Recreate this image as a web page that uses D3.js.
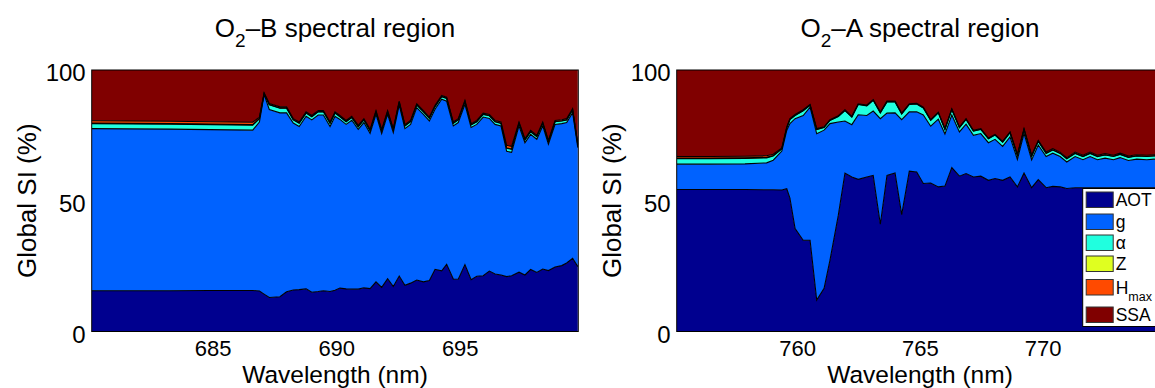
<!DOCTYPE html>
<html>
<head>
<meta charset="utf-8">
<script src="https://cdn.jsdelivr.net/npm/d3@7"></script>
<style>
  body { margin: 0; background: #fff; }
  text { font-family: "Liberation Sans", Arial, sans-serif; }
</style>
</head>
<body>
<svg id="chart" width="1155" height="388"></svg>
<script>
const keys = ["AOT", "g", "alpha", "Z", "Hmax", "SSA"];
const colors = ["#00008f", "#0062ff", "#20ffdf", "#dfff20", "#ff4a00", "#800000"];

// O2-B spectral region
const bWavelength = [680.10, 681.65, 683.27, 684.89, 686.62, 686.89, 687.08, 687.29, 687.72, 687.99,
  688.26, 688.50, 688.78, 689.01, 689.27, 689.48, 689.75, 689.95, 690.15, 690.40,
  690.63, 690.89, 691.12, 691.37, 691.61, 691.84, 692.08, 692.31, 692.55, 692.78,
  693.01, 693.26, 693.53, 693.77, 694.00, 694.27, 694.47, 694.74, 694.94, 695.21,
  695.46, 695.69, 695.95, 696.20, 696.43, 696.67, 696.90, 697.10, 697.40, 697.64,
  697.87, 698.12, 698.36, 698.59, 698.86, 699.13, 699.33, 699.57, 699.78];
const bAOT = [15.6, 15.6, 15.6, 15.7, 15.7, 15.5, 14.3, 13.0, 13.3, 15.2,
  15.9, 16.0, 16.3, 15.0, 15.3, 15.6, 15.3, 15.8, 16.6, 16.3,
  16.2, 16.2, 16.7, 16.4, 19.0, 16.9, 20.2, 17.2, 21.2, 17.7,
  18.5, 19.7, 19.0, 19.5, 23.8, 23.2, 25.7, 20.1, 20.0, 25.6,
  19.8, 21.1, 21.3, 23.1, 22.0, 21.6, 21.0, 21.3, 22.7, 21.6,
  23.7, 22.6, 23.9, 23.3, 24.7, 25.2, 26.2, 28.0, 24.8];
const bG = [62.0, 61.9, 61.8, 61.5, 61.3, 64.6, 76.3, 71.9, 70.3, 68.4,
  63.8, 62.4, 66.0, 65.9, 67.5, 67.2, 63.1, 66.5, 64.5, 62.9,
  64.6, 61.1, 63.2, 59.4, 64.0, 58.8, 62.8, 58.9, 65.4, 59.9,
  60.7, 65.9, 64.0, 61.0, 61.2, 65.6, 62.4, 58.5, 59.9, 61.3,
  58.2, 58.1, 60.7, 58.4, 57.2, 57.0, 47.9, 47.2, 55.9, 50.6,
  51.7, 50.9, 54.7, 48.3, 54.5, 54.3, 53.7, 55.7, 45.5];
const bAlpha = [1.9, 1.9, 1.9, 1.9, 1.9, 1.3, 0.3, 1.8, 1.8, 1.8,
  1.2, 1.2, 1.2, 1.2, 1.2, 1.2, 1.2, 1.2, 1.0, 1.0,
  1.0, 1.0, 1.0, 1.0, 1.0, 1.0, 1.0, 1.0, 1.0, 1.0,
  1.0, 1.0, 1.0, 1.0, 1.0, 1.0, 1.0, 1.0, 1.0, 1.0,
  1.0, 1.0, 1.0, 1.0, 1.0, 1.0, 1.2, 1.2, 1.0, 1.0,
  1.0, 1.0, 1.0, 1.0, 1.0, 1.0, 1.0, 1.0, 1.0];
const bZ = [0.2, 0.2, 0.2, 0.2, 0.2, 0.1, 0.1, 0.1, 0.1, 0.1,
  0.1, 0.1, 0.1, 0.1, 0.1, 0.1, 0.1, 0.1, 0.1, 0.1,
  0.1, 0.1, 0.1, 0.1, 0.1, 0.1, 0.1, 0.1, 0.1, 0.1,
  0.1, 0.1, 0.1, 0.1, 0.1, 0.1, 0.1, 0.1, 0.1, 0.1,
  0.1, 0.1, 0.1, 0.1, 0.1, 0.1, 0.1, 0.1, 0.1, 0.1,
  0.1, 0.1, 0.1, 0.1, 0.1, 0.1, 0.1, 0.1, 0.1];
const bHmax = [0.9, 0.9, 0.9, 0.9, 0.9, 0.5, 0.3, 0.4, 0.4, 0.4,
  0.4, 0.4, 0.4, 0.4, 0.4, 0.4, 0.4, 0.4, 0.4, 0.4,
  0.4, 0.4, 0.4, 0.4, 0.4, 0.4, 0.4, 0.4, 0.4, 0.4,
  0.4, 0.4, 0.4, 0.4, 0.4, 0.4, 0.4, 0.4, 0.4, 0.4,
  0.4, 0.4, 0.4, 0.4, 0.4, 0.4, 1.0, 1.0, 0.4, 0.4,
  0.4, 0.4, 0.4, 0.4, 0.4, 0.4, 0.4, 0.4, 0.4];
const bSSA = [19.4, 19.5, 19.6, 19.8, 20.0, 18.0, 8.7, 12.8, 14.1, 14.1,
  18.6, 19.9, 16.0, 17.4, 15.5, 15.5, 19.9, 16.0, 17.4, 19.3,
  17.7, 21.2, 18.6, 22.7, 15.5, 22.8, 15.5, 22.4, 11.9, 20.9,
  19.3, 12.9, 15.5, 18.0, 13.5, 9.7, 10.4, 19.9, 18.6, 11.6,
  20.5, 19.3, 16.5, 17.0, 19.3, 19.9, 28.8, 29.2, 19.9, 26.3,
  23.1, 25.0, 19.9, 26.9, 19.3, 19.0, 18.6, 14.8, 28.2];

// O2-A spectral region
const aWavelength = [755.10, 756.46, 757.88, 758.76, 759.03, 759.38, 759.58, 759.71, 759.92, 760.25,
  760.53, 760.80, 761.10, 761.34, 761.68, 761.95, 762.23, 762.49, 762.84, 763.10,
  763.39, 763.66, 763.99, 764.26, 764.57, 764.87, 765.14, 765.44, 765.75, 766.02,
  766.30, 766.61, 766.88, 767.18, 767.48, 767.79, 768.06, 768.37, 768.67, 768.97,
  769.24, 769.55, 769.82, 770.14, 770.41, 770.71, 770.98, 771.32, 771.64, 771.93,
  772.23, 772.54, 772.88, 773.15, 773.49, 773.83, 774.24, 774.54, 774.90];
const aAOT = [54.3, 54.3, 54.3, 54.2, 54.2, 54.1, 54.6, 51.0, 39.4, 34.9,
  34.9, 12.0, 16.5, 27.3, 44.5, 60.6, 59.1, 58.2, 59.1, 59.7,
  41.0, 59.7, 60.6, 44.7, 61.3, 61.0, 56.6, 56.8, 55.3, 55.6,
  62.7, 59.4, 60.4, 59.1, 59.4, 57.8, 58.5, 57.8, 59.1, 55.3,
  60.6, 55.0, 58.1, 55.0, 55.5, 55.3, 54.7, 55.0, 55.0, 55.0,
  55.0, 55.0, 55.0, 55.0, 55.0, 55.0, 55.0, 55.0, 55.0];
const aG = [9.7, 9.7, 9.8, 10.3, 11.3, 14.9, 22.3, 28.5, 42.0, 47.7,
  50.9, 63.6, 60.5, 52.2, 35.6, 19.9, 20.0, 24.7, 23.5, 24.6,
  40.4, 23.8, 23.0, 36.3, 22.7, 23.0, 26.2, 21.7, 25.9, 19.9,
  20.1, 16.9, 18.9, 15.9, 16.3, 14.4, 15.0, 13.0, 15.3, 10.5,
  15.2, 10.6, 13.2, 11.9, 12.7, 11.6, 10.1, 11.9, 10.7, 11.9,
  10.7, 11.3, 10.7, 11.5, 10.4, 10.9, 10.7, 10.9, 10.8];
const aAlpha = [2.1, 2.1, 2.1, 1.9, 1.6, 0.8, 0.9, 1.5, 1.2, 1.8,
  0.7, 1.6, 1.0, 1.2, 2.1, 4.0, 2.9, 3.9, 3.7, 4.1,
  2.2, 4.3, 4.2, 2.2, 2.8, 3.0, 2.7, 2.2, 2.4, 1.8,
  2.1, 1.6, 1.8, 1.6, 1.6, 1.5, 1.6, 1.6, 1.6, 1.5,
  1.4, 1.4, 1.4, 1.2, 1.2, 1.2, 1.2, 1.2, 1.2, 1.2,
  1.2, 1.2, 1.2, 1.2, 1.2, 1.2, 1.2, 1.2, 1.2];
const aZ = [0.2, 0.2, 0.2, 0.2, 0.2, 0.1, 0.1, 0.1, 0.1, 0.1,
  0.1, 0.1, 0.1, 0.1, 0.1, 0.1, 0.1, 0.1, 0.1, 0.1,
  0.1, 0.1, 0.1, 0.1, 0.1, 0.1, 0.1, 0.1, 0.1, 0.1,
  0.1, 0.1, 0.1, 0.1, 0.1, 0.1, 0.1, 0.1, 0.1, 0.1,
  0.1, 0.1, 0.1, 0.1, 0.1, 0.1, 0.1, 0.1, 0.1, 0.1,
  0.1, 0.1, 0.1, 0.1, 0.1, 0.1, 0.1, 0.1, 0.1];
const aHmax = [0.6, 0.6, 0.6, 0.6, 0.5, 0.3, 0.3, 0.3, 0.3, 0.3,
  0.2, 0.3, 0.2, 0.2, 0.2, 0.2, 0.2, 0.2, 0.2, 0.2,
  0.2, 0.2, 0.2, 0.2, 0.2, 0.2, 0.2, 0.2, 0.2, 0.2,
  0.2, 0.2, 0.2, 0.2, 0.2, 0.2, 0.2, 0.2, 0.2, 0.3,
  0.3, 0.3, 0.3, 0.4, 0.4, 0.4, 0.4, 0.4, 0.4, 0.4,
  0.4, 0.4, 0.4, 0.4, 0.4, 0.4, 0.4, 0.4, 0.4];
const aSSA = [33.1, 33.1, 33.0, 32.8, 32.2, 29.8, 21.8, 18.6, 17.0, 15.2,
  13.2, 22.4, 21.7, 19.0, 17.5, 15.2, 17.7, 12.9, 13.4, 11.3,
  16.1, 11.9, 11.9, 16.5, 12.9, 12.7, 14.2, 19.0, 16.1, 22.4,
  14.8, 21.8, 18.6, 23.1, 22.4, 26.0, 24.6, 27.3, 23.7, 32.3,
  22.4, 32.6, 26.9, 31.4, 30.1, 31.4, 33.5, 31.4, 32.6, 31.4,
  32.6, 32.0, 32.6, 31.8, 32.9, 32.4, 32.6, 32.4, 32.5];

const bTicks = [685, 690, 695];
const aTicks = [760, 765, 770];
const yTicks = [0, 50, 100];

const svg = d3.select("#chart");
const plotTop = 70, plotBottom = 331.5, plotW = 486.6;
const fontStack = "'Liberation Sans', Arial, sans-serif";

function rows(wl, series) {
  return wl.map((w, i) => {
    const r = { wl: w };
    keys.forEach((k, j) => r[k] = series[j][i]);
    return r;
  });
}

function drawPanel(left, domain, ticks, data, band, legend) {
  const x = d3.scaleLinear().domain(domain).range([left, left + plotW]);
  const y = d3.scaleLinear().domain([0, 1]).range([plotBottom, plotTop]);
  const g = svg.append("g");
  const clipId = "clip" + band;
  g.append("clipPath").attr("id", clipId)
    .append("rect").attr("x", left).attr("y", plotTop)
    .attr("width", plotW).attr("height", plotBottom - plotTop);

  const stacked = d3.stack().keys(keys).offset(d3.stackOffsetExpand)(data);
  const area = d3.area().x(d => x(d.data.wl)).y0(d => y(d[0])).y1(d => y(d[1]));
  const line = d3.line().x(d => x(d.data.wl)).y(d => y(d[1]));

  const plot = g.append("g").attr("clip-path", `url(#${clipId})`);
  plot.selectAll("path.area").data(stacked).join("path")
    .attr("class", "area")
    .attr("fill", (d, i) => colors[i])
    .attr("d", area);
  plot.selectAll("path.edge").data(stacked.slice(0, -1)).join("path")
    .attr("class", "edge")
    .attr("fill", "none").attr("stroke", "#000").attr("stroke-width", 1.1)
    .attr("d", line);

  g.append("rect").attr("x", left).attr("y", plotTop)
    .attr("width", plotW).attr("height", plotBottom - plotTop)
    .attr("fill", "none").attr("stroke", "#000").attr("stroke-width", 1);

  // tick labels only, MATLAB ticks sit behind the areas
  const xAxis = g.append("g").attr("transform", `translate(0,${plotBottom})`)
    .call(d3.axisBottom(x).tickValues(ticks).tickSize(0).tickPadding(8.8));
  xAxis.select(".domain").remove();
  xAxis.selectAll("text").attr("font-size", 22).attr("font-family", fontStack).attr("fill", "#000");

  const yAxis = g.append("g").attr("transform", `translate(${left},0)`)
    .call(d3.axisLeft(y).tickValues(yTicks.map(v => v / 100)).tickFormat(d => Math.round(d * 100)).tickSize(0).tickPadding(6));
  yAxis.select(".domain").remove();
  yAxis.selectAll("text").attr("font-size", 24).attr("dy", "0.45em").attr("font-family", fontStack).attr("fill", "#000");

  const cx = left + plotW / 2;
  const title = g.append("text").attr("x", cx).attr("y", 37)
    .attr("text-anchor", "middle").attr("font-size", 26);
  title.append("tspan").text("O");
  title.append("tspan").attr("dy", 10).attr("font-size", 19).text("2");
  title.append("tspan").attr("dy", -10).text("\u2013" + band + " spectral region");

  g.append("text").attr("x", cx).attr("y", 382.5).attr("text-anchor", "middle")
    .attr("font-size", 24.5).text("Wavelength (nm)");
  g.append("text").attr("transform", `translate(${left - 56},${(plotTop + plotBottom) / 2}) rotate(-90)`)
    .attr("text-anchor", "middle").attr("font-size", 26).text("Global SI (%)");

  if (legend) {
    const lx = left + plotW - 80.6;
    const lg = g.append("g");
    lg.append("rect").attr("x", lx).attr("y", 188.5).attr("width", 100).attr("height", 138)
      .attr("fill", "#fff").attr("stroke", "#000").attr("stroke-width", 1);
    const rowY = [199.5, 221.5, 242.5, 263.5, 287, 314.5];
    const labels = ["AOT", "g", "\u03b1", "Z", "H", "SSA"];
    labels.forEach((lab, i) => {
      lg.append("rect").attr("x", lx + 3.5).attr("y", rowY[i] - 7.5).attr("width", 27).attr("height", 15.5)
        .attr("fill", colors[i]).attr("stroke", "#333").attr("stroke-width", 1);
      const t = lg.append("text").attr("x", lx + 33).attr("y", rowY[i] + 6.5).attr("font-size", 17.5).text(lab);
      if (lab === "H") t.append("tspan").attr("dy", 7).attr("font-size", 12.5).text("max");
    });
  }
}

drawPanel(91.7, [680.1, 699.8], bTicks,
  rows(bWavelength, [bAOT, bG, bAlpha, bZ, bHmax, bSSA]), "B", false);
drawPanel(676.7, [755.1, 774.91], aTicks,
  rows(aWavelength, [aAOT, aG, aAlpha, aZ, aHmax, aSSA]), "A", true);
</script>
</body>
</html>
